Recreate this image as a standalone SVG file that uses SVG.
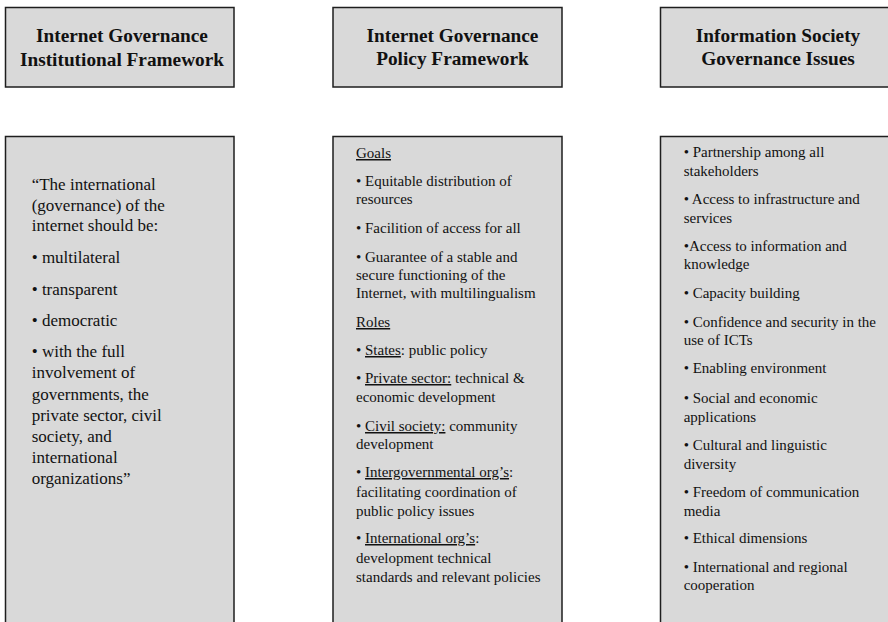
<svg xmlns="http://www.w3.org/2000/svg" width="888" height="622" viewBox="0 0 888 622">
  <style>
    .box { fill: #d9d9d9; stroke: #1e1e1e; stroke-width: 1.5; }
    .head { font-family: "Liberation Serif", "Times New Roman", serif; font-weight: bold; font-size: 19.3px; fill: #111; text-anchor: middle; }
    .quote { font-family: "Liberation Serif", "Times New Roman", serif; font-size: 17px; fill: #111; }
    .item { font-family: "Liberation Serif", "Times New Roman", serif; font-size: 15px; fill: #111; }
    .u { text-decoration: underline; }
  </style>

  <rect width="888" height="622" fill="#ffffff"/>

  <!-- column headers -->
  <g id="head-institutional">
    <rect class="box" x="5.5" y="7.5" width="228.5" height="79.5"/>
    <text class="head" x="122" y="42">Internet Governance</text>
    <text class="head" x="122" y="66">Institutional Framework</text>
  </g>

  <g id="head-policy">
    <rect class="box" x="333" y="7.5" width="229" height="79.5"/>
    <text class="head" x="452.5" y="42">Internet Governance</text>
    <text class="head" x="452.5" y="65">Policy Framework</text>
  </g>

  <g id="head-society">
    <rect class="box" x="660.5" y="7.5" width="240" height="79.5"/>
    <text class="head" x="778" y="42">Information Society</text>
    <text class="head" x="778" y="65">Governance Issues</text>
  </g>

  <!-- column bodies -->
  <g id="body-institutional">
    <rect class="box" x="5.5" y="136.5" width="228.5" height="500"/>
    <text class="quote" x="31.7" y="190">“The international</text>
    <text class="quote" x="31.7" y="211">(governance) of the</text>
    <text class="quote" x="31.7" y="231">internet should be:</text>
    <text class="quote" x="31.7" y="263">• multilateral</text>
    <text class="quote" x="31.7" y="295">• transparent</text>
    <text class="quote" x="31.7" y="326">• democratic</text>
    <text class="quote" x="31.7" y="357">• with the full</text>
    <text class="quote" x="31.7" y="378">involvement of</text>
    <text class="quote" x="31.7" y="400">governments, the</text>
    <text class="quote" x="31.7" y="421">private sector, civil</text>
    <text class="quote" x="31.7" y="442">society, and</text>
    <text class="quote" x="31.7" y="463">international</text>
    <text class="quote" x="31.7" y="484">organizations”</text>
  </g>

  <g id="body-policy">
    <rect class="box" x="333" y="136.5" width="229" height="500"/>
    <text class="item" x="356" y="158"><tspan class="u">Goals</tspan></text>
    <text class="item" x="356" y="186">• Equitable distribution of</text>
    <text class="item" x="356" y="204">resources</text>
    <text class="item" x="356" y="233">• Facilition of access for all</text>
    <text class="item" x="356" y="262">• Guarantee of a stable and</text>
    <text class="item" x="356" y="280">secure functioning of the</text>
    <text class="item" x="356" y="298">Internet, with multilingualism</text>
    <text class="item" x="356" y="327"><tspan class="u">Roles</tspan></text>
    <text class="item" x="356" y="355">• <tspan class="u">States</tspan>: public policy</text>
    <text class="item" x="356" y="383">• <tspan class="u">Private sector:</tspan> technical &amp;</text>
    <text class="item" x="356" y="402">economic development</text>
    <text class="item" x="356" y="431">• <tspan class="u">Civil society:</tspan> community</text>
    <text class="item" x="356" y="449">development</text>
    <text class="item" x="356" y="477">• <tspan class="u">Intergovernmental org’s</tspan>:</text>
    <text class="item" x="356" y="497">facilitating coordination of</text>
    <text class="item" x="356" y="516">public policy issues</text>
    <text class="item" x="356" y="543">• <tspan class="u">International org’s</tspan>:</text>
    <text class="item" x="356" y="563">development technical</text>
    <text class="item" x="356" y="582">standards and relevant policies</text>
  </g>

  <g id="body-society">
    <rect class="box" x="660.5" y="136.5" width="240" height="500"/>
    <text class="item" x="683.7" y="157">• Partnership among all</text>
    <text class="item" x="683.7" y="176">stakeholders</text>
    <text class="item" x="683.7" y="204">• Access to infrastructure and</text>
    <text class="item" x="683.7" y="223">services</text>
    <text class="item" x="683.7" y="251">•Access to information and</text>
    <text class="item" x="683.7" y="269">knowledge</text>
    <text class="item" x="683.7" y="298">• Capacity building</text>
    <text class="item" x="683.7" y="327">• Confidence and security in the</text>
    <text class="item" x="683.7" y="345">use of ICTs</text>
    <text class="item" x="683.7" y="373">• Enabling environment</text>
    <text class="item" x="683.7" y="403">• Social and economic</text>
    <text class="item" x="683.7" y="422">applications</text>
    <text class="item" x="683.7" y="450">• Cultural and linguistic</text>
    <text class="item" x="683.7" y="469">diversity</text>
    <text class="item" x="683.7" y="497">• Freedom of communication</text>
    <text class="item" x="683.7" y="516">media</text>
    <text class="item" x="683.7" y="543">• Ethical dimensions</text>
    <text class="item" x="683.7" y="572">• International and regional</text>
    <text class="item" x="683.7" y="590">cooperation</text>
  </g>
</svg>
